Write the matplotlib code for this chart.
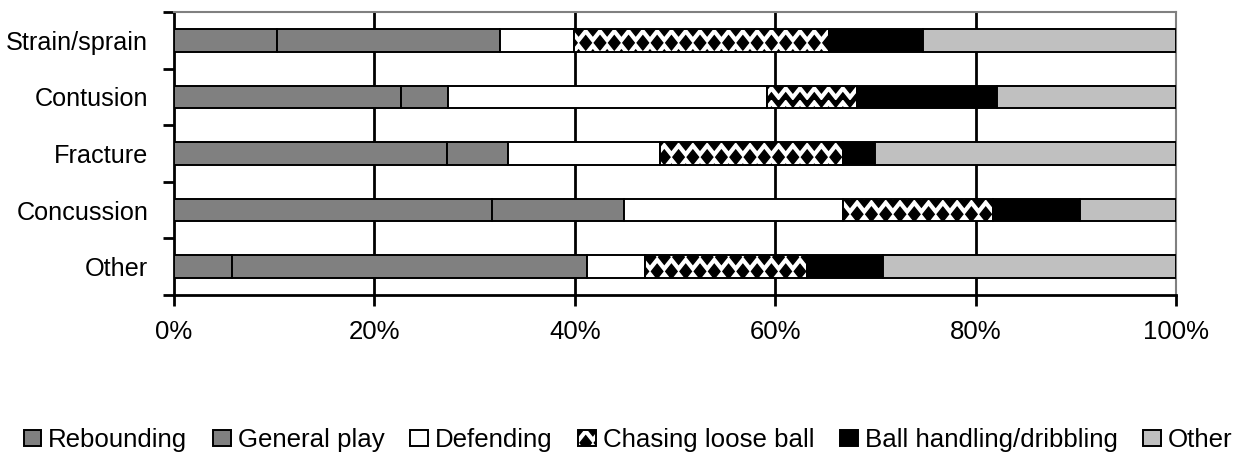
import numpy as np
import matplotlib
matplotlib.use("Agg")
import matplotlib.pyplot as plt
from matplotlib import hatch as mhatch
from matplotlib.path import Path

# injury types (top to bottom) and activity shares in percent
injuries = ["Strain/sprain", "Contusion", "Fracture", "Concussion", "Other"]
activities = ["Rebounding", "General play", "Defending", "Chasing loose ball",
              "Ball handling/dribbling", "Other"]

rebounding = [10.3, 22.7, 27.2, 31.7, 5.8]
general_play = [22.2, 4.6, 6.1, 13.2, 35.4]
defending = [7.4, 31.9, 15.2, 21.9, 5.8]
chasing = [25.5, 9.0, 18.3, 14.9, 16.2]
ball_handling = [9.4, 13.9, 3.2, 8.7, 7.6]
other = [25.2, 17.9, 30.0, 9.6, 29.2]

xticks = [0, 20, 40, 60, 80, 100]


# filled diamond hatch (replaces the small-dot hatch '.')
class Diamonds(mhatch.Shapes):
    size = 0.4
    filled = True

    def __init__(self, hatch, density):
        self.num_rows = hatch.count('.') * 7
        p = Path.unit_regular_polygon(4)
        self.shape_vertices = p.vertices * np.array([1.0, 1.25])
        self.shape_codes = p.codes
        super().__init__(hatch, density)
        n = self.num_rows
        if n:
            even = n // 2 + 1
            odd = (n + 1) // 2
            self.num_shapes = even * (n + 1) + odd * n
            self.num_vertices = self.num_shapes * len(self.shape_vertices)


mhatch._hatch_types = [Diamonds if t is mhatch.SmallFilledCircles else t
                       for t in mhatch._hatch_types]

plt.rcParams['font.family'] = ['Liberation Sans', 'DejaVu Sans']
plt.rcParams['hatch.color'] = 'black'

fig = plt.figure(figsize=(12.52, 4.55), dpi=100)
ax = fig.add_axes([174 / 1252, 1 - 295 / 455, 1002 / 1252, 283 / 455])

series = [rebounding, general_play, defending, chasing, ball_handling, other]
colors = ['#808080', '#808080', 'white', 'white', 'black', '#C0C0C0']
hatches = [None, None, None, '.', None, None]

y = np.arange(len(injuries))
left = np.zeros(len(injuries))
for vals, lab, c, h in zip(series, activities, colors, hatches):
    ax.barh(y, vals, left=left, height=0.4, color=c, edgecolor='black',
            linewidth=1.4, hatch=h, label=lab, zorder=3)
    left += np.array(vals)

ax.set_xlim(0, 100)
ax.set_ylim(len(injuries) - 0.5, -0.5)

ax.set_xticks(xticks)
ax.set_xticklabels([f"{v}%" for v in xticks], fontsize=18.5)
ax.tick_params(axis='x', direction='out', length=8, width=2, pad=10)

ax.set_yticks(np.arange(len(injuries) + 1) - 0.5)
ax.set_yticklabels([])
ax.set_yticks(y, minor=True)
ax.set_yticklabels(injuries, minor=True, fontsize=18.2)
ax.tick_params(axis='y', which='major', direction='out', length=8, width=2)
ax.tick_params(axis='y', which='minor', length=0, pad=18.5)

ax.xaxis.grid(True, color='black', linewidth=2)
ax.yaxis.grid(False)
ax.set_axisbelow(True)
gl = ax.get_xgridlines()
gl[0].set_visible(False)
gl[-1].set_visible(False)

ax.spines['left'].set_linewidth(2)
ax.spines['bottom'].set_linewidth(2)
ax.spines['top'].set_color('#808080')
ax.spines['right'].set_color('#808080')
ax.spines['top'].set_linewidth(1.5)
ax.spines['right'].set_linewidth(1.5)

fig.legend(loc='center', bbox_to_anchor=(628 / 1252, 1 - 440 / 455), ncol=6,
           frameon=False, fontsize=18.6, handlelength=0.68, handleheight=0.62,
           handletextpad=0.27, columnspacing=1.0, borderpad=0, borderaxespad=0)

fig.savefig("out.png", dpi=100)
